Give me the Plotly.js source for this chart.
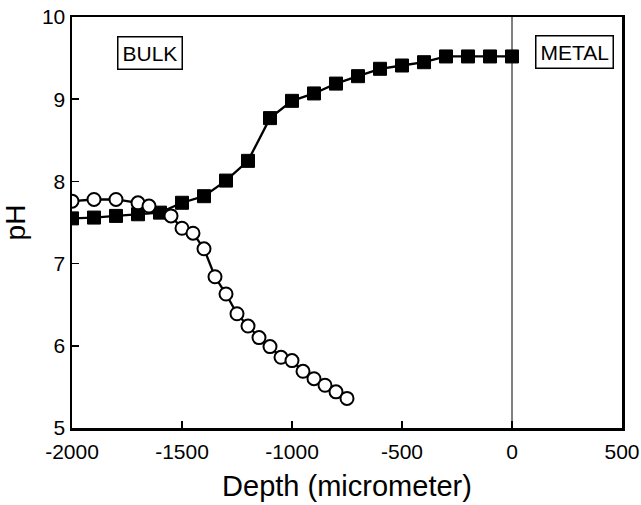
<!DOCTYPE html>
<html>
<head>
<meta charset="utf-8">
<script src="https://cdn.plot.ly/plotly-3.0.1.min.js"></script>
<style>html,body{margin:0;padding:0;background:#fff}#chart{width:641px;height:505px}</style>
</head>
<body>
<div id="chart"></div>
<script>
const squareDepth = [-2000,-1900,-1800,-1700,-1600,-1500,-1400,-1300,-1200,-1100,-1000,-900,-800,-700,-600,-500,-400,-300,-200,-100,0];
const squarePH    = [7.55,7.56,7.58,7.60,7.62,7.74,7.82,8.01,8.25,8.77,8.98,9.07,9.19,9.28,9.37,9.41,9.45,9.52,9.52,9.52,9.52];
const circleDepth = [-2000,-1900,-1800,-1700,-1650,-1550,-1500,-1450,-1400,-1350,-1300,-1250,-1200,-1150,-1100,-1050,-1000,-950,-900,-850,-800,-750];
const circlePH    = [7.76,7.78,7.78,7.74,7.70,7.58,7.43,7.37,7.18,6.84,6.63,6.39,6.24,6.10,5.99,5.86,5.82,5.69,5.60,5.52,5.44,5.36];
const xTicks = [-2000,-1500,-1000,-500,0,500];
const yTicks = [5,6,7,8,9,10];
const labels = ["BULK","METAL"];

const traces = [
  {x: squareDepth, y: squarePH, mode: 'lines+markers', type: 'scatter',
   line: {color: '#000', width: 2.3},
   marker: {symbol: 'square', size: 13, color: '#000', line: {color: '#000', width: 1}}},
  {x: circleDepth, y: circlePH, mode: 'lines+markers', type: 'scatter',
   line: {color: '#000', width: 2.3},
   marker: {symbol: 'circle', size: 13, color: '#fff', line: {color: '#000', width: 2}}}
];

const font = {family: '"Liberation Sans", Arial, sans-serif', color: '#000'};
const layout = {
  width: 641, height: 505,
  margin: {l: 72, r: 19, t: 17, b: 77},
  paper_bgcolor: '#fff', plot_bgcolor: '#fff',
  showlegend: false,
  font: font,
  xaxis: {
    range: [-2000, 500], tickvals: xTicks, ticktext: xTicks.map(String),
    ticks: 'inside', ticklen: 7, tickwidth: 1.5, tickcolor: '#000',
    showline: true, linecolor: '#000', linewidth: 2.5, mirror: true,
    showgrid: false, zeroline: false, ticklabelstandoff: 3,
    tickfont: {family: font.family, size: 21, color: '#000'},
    title: {text: 'Depth (micrometer)', font: {family: font.family, size: 29, color: '#000'}, standoff: 14}
  },
  yaxis: {
    range: [5, 10], tickvals: yTicks,
    ticks: 'inside', ticklen: 7, tickwidth: 1.5, tickcolor: '#000',
    showline: true, linecolor: '#000', linewidth: 2.5, mirror: true,
    showgrid: false, zeroline: false,
    tickfont: {family: font.family, size: 21, color: '#000'},
    title: {text: 'pH', font: {family: font.family, size: 28, color: '#000'}, standoff: 10}
  },
  shapes: [
    {type: 'line', xref: 'x', yref: 'paper', x0: 0, x1: 0, y0: 0, y1: 1, line: {color: '#000', width: 1}}
  ],
  annotations: [
    {x: -1645, y: 9.56, xref: 'x', yref: 'y', text: labels[0], showarrow: false,
     font: {family: font.family, size: 21, color: '#000'},
     bordercolor: '#000', borderwidth: 1.5, borderpad: 4, bgcolor: '#fff'},
    {x: 282, y: 9.57, xref: 'x', yref: 'y', text: labels[1], showarrow: false,
     font: {family: font.family, size: 21, color: '#000'},
     bordercolor: '#000', borderwidth: 1.5, borderpad: 4, bgcolor: '#fff'}
  ]
};
Plotly.newPlot('chart', traces, layout, {displayModeBar: false, staticPlot: true});
</script>
</body>
</html>
